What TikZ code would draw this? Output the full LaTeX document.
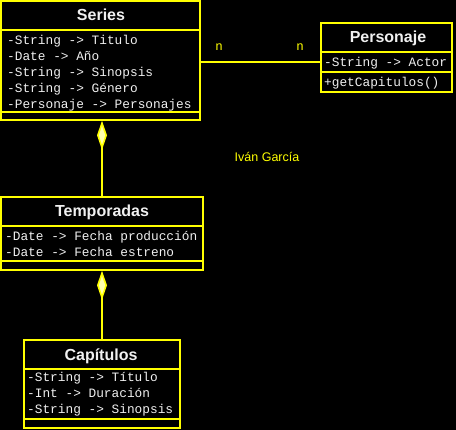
\documentclass[tikz,border=0pt]{standalone}
\usepackage{fontspec}
\setmainfont{Liberation Sans}
\newfontfamily\umlmono{Liberation Mono}
\usetikzlibrary{arrows.meta}
\definecolor{umlyellow}{RGB}{255,255,0}
\definecolor{umltext}{RGB}{240,240,240}
\definecolor{diafill}{RGB}{255,255,175}
\tikzset{
classbox/.style={draw=umlyellow,line width=1.6pt,inner sep=0pt},
sepline/.style={umlyellow,line width=1.6pt},
classname/.style={anchor=base,text=umltext,inner sep=0pt,font=\fontsize{16}{16}\selectfont\bfseries},
member/.style={anchor=base west,text=umltext,inner sep=0pt,font=\umlmono\fontsize{12.8}{13}\selectfont},
mult/.style={text=umlyellow,inner sep=0pt,font=\fontsize{12.5}{12.5}\selectfont},
link/.style={umlyellow,line width=1.6pt},
comp/.style={link,{Diamond[length=29pt,width=10pt,fill=diafill]}-}
}
\begin{document}
\begin{tikzpicture}[x=1pt,y=-1pt]
\fill[black] (0,0) rectangle (456,430);
\useasboundingbox (0,0) rectangle (456,430);
\node[classbox,minimum width=199pt,minimum height=119pt] (series) at (100.5,60.5) {};
\draw[sepline] (1,30) -- (200,30) (1,112) -- (200,112);
\node[classname] (seriesT) at (101,20.5) {Series};
\foreach \txt [count=\i] in {-String -> Titulo,-Date -> Año,-String -> Sinopsis,-String -> Género,-Personaje -> Personajes}
\node[member] (seriesA\i) at (7,28.5+16*\i) {\txt};
\node[classbox,minimum width=202pt,minimum height=73pt] (temporadas) at (102,233.5) {};
\draw[sepline] (1,226) -- (203,226) (1,261) -- (203,261);
\node[classname] (temporadasT) at (102,217) {Temporadas};
\foreach \txt [count=\i] in {-Date -> Fecha producción,-Date -> Fecha estreno}
\node[member] (temporadasA\i) at (5,225+16*\i) {\txt};
\node[classbox,minimum width=156pt,minimum height=88pt] (capitulos) at (102,384) {};
\draw[sepline] (24,369) -- (180,369) (24,419) -- (180,419);
\node[classname] (capitulosT) at (101,361) {Capítulos};
\foreach \txt [count=\i] in {-String -> Título,-Int -> Duración,-String -> Sinopsis}
\node[member] (capitulosA\i) at (27,366+16*\i) {\txt};
\node[classbox,minimum width=131pt,minimum height=69pt] (personaje) at (386.5,57.5) {};
\draw[sepline] (321,52) -- (452,52) (321,72) -- (452,72);
\node[classname] (personajeT) at (388,43) {Personaje};
\node[member] (personajeA1) at (324,67) {-String -> Actor};
\node[member] (personajeO1) at (324,87) {+getCapitulos()};
\draw[link] ([yshift=-4.5pt]personaje.west) -- ([yshift=-4.5pt]personaje.west -| series.east);
\draw[comp] (series.south -| temporadas.north) -- (temporadas.north);
\draw[comp] (temporadas.south) -- (capitulos.north);
\node[mult] (multS) at (219,47) {n};
\node[mult] (multP) at (300,47) {n};
\node[mult] (autor) at (267,157) {Iván García};
\end{tikzpicture}
\end{document}
